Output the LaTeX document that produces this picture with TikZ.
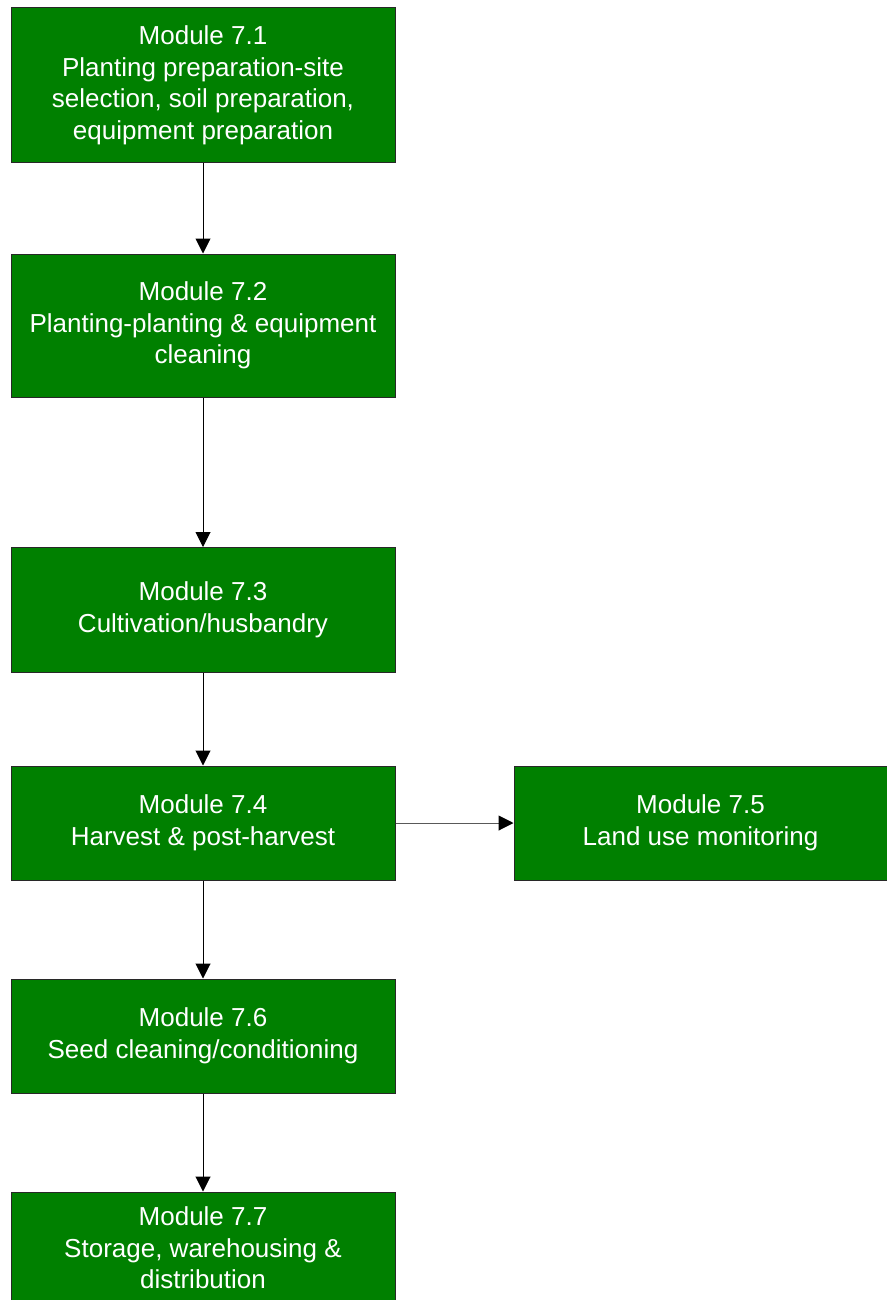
\documentclass[tikz,border=0pt]{standalone}
\usepackage{fontspec}
\setmainfont{Liberation Sans}
\usetikzlibrary{arrows.meta}
\definecolor{boxgreen}{RGB}{0,128,0}
\definecolor{boxline}{RGB}{40,40,40}
\tikzset{
  modbox/.style={draw=boxline, line width=1pt, fill=boxgreen, text=white,
    align=center, inner sep=0pt, minimum width=384pt,
    font=\fontsize{26pt}{31.5pt}\selectfont},
  conn/.style={draw=black, line width=1pt, -{Triangle[length=15pt,width=15pt,black]}}
}
\begin{document}
\begin{tikzpicture}[x=1pt,y=-1pt]
\useasboundingbox (0,0) rectangle (886,1300);
\node[modbox, minimum height=155pt] (m1) at (203,85.5) {Module 7.1\\Planting preparation-site\\selection, soil preparation,\\equipment preparation};
\node[modbox, minimum height=143pt] (m2) at (203,325.5) {Module 7.2\\Planting-planting \& equipment\\cleaning};
\node[modbox, minimum height=125pt] (m3) at (203,610) {Module 7.3\\Cultivation/husbandry};
\node[modbox, minimum height=114pt] (m4) at (203,823) {Module 7.4\\Harvest \& post-harvest};
\node[modbox, minimum height=114pt, minimum width=373pt] (m5) at (700.5,823) {Module 7.5\\Land use monitoring};
\node[modbox, minimum height=114pt] (m6) at (203,1036) {Module 7.6\\Seed cleaning/conditioning};
\node[modbox, minimum height=112pt] (m7) at (203,1248) {Module 7.7\\Storage, warehousing \&\\distribution};
\draw[conn] (m1) -- (m2);
\draw[conn] (m2) -- (m3);
\draw[conn] (m3) -- (m4);
\draw[conn, draw=black!65] (m4) -- (m5);
\draw[conn] (m4) -- (m6);
\draw[conn] (m6) -- (m7);
\end{tikzpicture}
\end{document}
